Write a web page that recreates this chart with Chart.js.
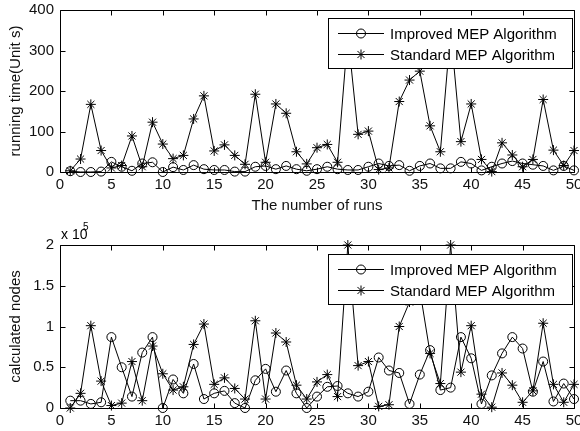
<!DOCTYPE html>
<html>
<head>
<meta charset="utf-8">
<script src="https://cdn.jsdelivr.net/npm/chart.js@4.4.1/dist/chart.umd.min.js"></script>
<style>
  body { margin: 0; background: #fff; }
  #wrap { position: relative; width: 580px; height: 431px; background: #fff; }
  canvas { position: absolute; left: 0; }
</style>
</head>
<body>
<div id="wrap">
  <canvas id="chart-time" width="580" height="220" style="top:0;width:580px;height:220px"></canvas>
  <canvas id="chart-nodes" width="580" height="211" style="top:220px;width:580px;height:211px"></canvas>
</div>
<script>
// run number (x axis)
const runs = [1, 2, 3, 4, 5, 6, 7, 8, 9, 10, 11, 12, 13, 14, 15, 16, 17, 18, 19, 20,
    21, 22, 23, 24, 25, 26, 27, 28, 29, 30, 31, 32, 33, 34, 35, 36, 37, 38, 39, 40,
    41, 42, 43, 44, 45, 46, 47, 48, 49, 50];

// running time, seconds
const timeImproved = [2, 0, 0, 1, 25, 13, 3, 21, 24, 0, 12, 5, 17, 7, 5, 5, 1, 1, 13, 15,
    7, 15, 7, 3, 7, 13, 7, 5, 5, 13, 21, 15, 17, 3, 15, 21, 9, 9, 25, 21,
    4, 13, 21, 27, 21, 18, 15, 4, 15, 4];
const timeStandard = [3, 32, 167, 53, 10, 16, 89, 13, 123, 69, 33, 41, 131, 188, 52, 67, 41, 19, 192, 24,
    168, 145, 50, 20, 60, 68, 24, 340, 93, 101, 6, 10, 174, 227, 249, 114, 50, 350, 75, 168,
    31, 1, 72, 42, 13, 31, 179, 54, 16, 53];

// calculated nodes, in units of 10^5
const nodesImproved = [0.09, 0.09, 0.05, 0.07, 0.87, 0.50, 0.14, 0.68, 0.87, 0.00, 0.35, 0.18, 0.54, 0.11, 0.18, 0.21, 0.06, 0.00, 0.34, 0.48,
    0.20, 0.46, 0.18, 0.00, 0.14, 0.26, 0.27, 0.18, 0.14, 0.20, 0.62, 0.46, 0.43, 0.05, 0.41, 0.71, 0.22, 0.25, 0.87, 0.61,
    0.05, 0.40, 0.67, 0.87, 0.73, 0.20, 0.57, 0.08, 0.30, 0.11];
const nodesStandard = [0.00, 0.18, 1.01, 0.33, 0.03, 0.06, 0.57, 0.09, 0.76, 0.42, 0.22, 0.26, 0.78, 1.03, 0.29, 0.37, 0.24, 0.11, 1.07, 0.11,
    0.92, 0.81, 0.28, 0.11, 0.32, 0.41, 0.14, 2.00, 0.52, 0.57, 0.02, 0.04, 1.00, 1.30, 1.45, 0.67, 0.30, 2.00, 0.44, 1.01,
    0.17, 0.01, 0.43, 0.28, 0.07, 0.21, 1.04, 0.29, 0.07, 0.29];

const seriesNames = ["Improved MEP Algorithm", "Standard MEP Algorithm"];
const xTicks = [0, 5, 10, 15, 20, 25, 30, 35, 40, 45, 50];
const timeTicks = [0, 100, 200, 300, 400];
const nodeTicks = [0, 0.5, 1, 1.5, 2];

const FONT = "'Liberation Sans', Arial, sans-serif";

function toPoints(values) {
    return values.map(function (v, i) { return { x: runs[i], y: v }; });
}

function drawMarker(ctx, style, x, y) {
    ctx.beginPath();
    if (style === "circle") {
        ctx.arc(x, y, 4.5, 0, Math.PI * 2);
    } else {
        let r = 5, d = r * Math.SQRT1_2;
        ctx.moveTo(x - r, y); ctx.lineTo(x + r, y);
        ctx.moveTo(x, y - r); ctx.lineTo(x, y + r);
        ctx.moveTo(x - d, y - d); ctx.lineTo(x + d, y + d);
        ctx.moveTo(x - d, y + d); ctx.lineTo(x + d, y - d);
    }
    ctx.stroke();
}

// MATLAB style frame: box, inward ticks on all sides, boxed legend
const matlabBox = {
    id: "matlabBox",
    afterDatasetsDraw(chart, args, opts) {
        const ctx = chart.ctx;
        const a = chart.chartArea;
        const xs = chart.scales.x;
        const ys = chart.scales.y;
        const L = Math.round(a.left) + 0.5, R = Math.round(a.right) + 0.5;
        const T = Math.round(a.top) + 0.5, B = Math.round(a.bottom) + 0.5;

        ctx.save();
        ctx.strokeStyle = "#000";
        ctx.lineWidth = 1;
        ctx.beginPath();
        ctx.rect(L, T, R - L, B - T);
        xs.ticks.forEach(function (t) {
            let px = Math.round(xs.getPixelForValue(t.value)) + 0.5;
            ctx.moveTo(px, B); ctx.lineTo(px, B - 5);
            ctx.moveTo(px, T); ctx.lineTo(px, T + 5);
        });
        ys.ticks.forEach(function (t) {
            let py = Math.round(ys.getPixelForValue(t.value)) + 0.5;
            ctx.moveTo(L, py); ctx.lineTo(L + 5, py);
            ctx.moveTo(R, py); ctx.lineTo(R - 5, py);
        });
        ctx.stroke();

        // legend
        const boxL = 328.5, boxR = R - 2, boxT = T + opts.legendTop, boxH = 50;
        ctx.fillStyle = "#fff";
        ctx.fillRect(boxL, boxT, boxR - boxL, boxH);
        ctx.strokeRect(boxL, boxT, boxR - boxL, boxH);
        ctx.font = "15px " + FONT;
        ctx.textBaseline = "middle";
        ctx.textAlign = "left";
        chart.data.datasets.forEach(function (ds, i) {
            let y = Math.round(boxT + 14 + i * 21) + 0.5;
            ctx.beginPath();
            ctx.moveTo(338, y); ctx.lineTo(384, y);
            ctx.stroke();
            drawMarker(ctx, ds.pointStyle, 361, y);
            ctx.fillStyle = "#000";
            ctx.fillText(ds.label, 390, y + 1);
        });

        // exponent label for the nodes axis
        if (opts.exponent) {
            ctx.fillStyle = "#000";
            ctx.font = "14px " + FONT;
            ctx.fillText("x 10", 61, a.top - 10);
            ctx.font = "10px " + FONT;
            ctx.fillText(opts.exponent, 83, a.top - 18);
        }
        ctx.restore();
    }
};

function makeChart(canvasId, improved, standard, yMax, yTicks, yTitle, xTitle, layout) {
    let canvas = document.getElementById(canvasId);
    return new Chart(canvas, {
        type: "line",
        data: {
            datasets: [{
                label: seriesNames[0],
                data: toPoints(improved),
                borderColor: "#000",
                borderWidth: 1,
                pointStyle: "circle",
                pointRadius: 4.5,
                pointBorderWidth: 1,
                pointBorderColor: "#000",
                pointBackgroundColor: "rgba(0,0,0,0)",
                tension: 0,
                clip: false
            }, {
                label: seriesNames[1],
                data: toPoints(standard),
                borderColor: "#000",
                borderWidth: 1,
                pointStyle: "star",
                pointRadius: 5,
                pointBorderWidth: 1,
                pointBorderColor: "#000",
                pointBackgroundColor: "#000",
                tension: 0,
                clip: false
            }]
        },
        options: {
            responsive: false,
            animation: false,
            events: [],
            devicePixelRatio: 1,
            layout: { padding: { top: layout.top, right: 3, left: 0, bottom: 0 } },
            plugins: {
                legend: { display: false },
                tooltip: { enabled: false },
                matlabBox: { legendTop: layout.legendTop, exponent: layout.exponent }
            },
            scales: {
                x: {
                    type: "linear",
                    min: 0,
                    max: 50,
                    grid: { display: false, drawTicks: false },
                    border: { display: false },
                    afterBuildTicks: function (s) { s.ticks = xTicks.map(function (v) { return { value: v }; }); },
                    ticks: { color: "#111", font: { family: FONT, size: 15 }, padding: 4, maxRotation: 0, autoSkip: false },
                    title: {
                        display: !!xTitle,
                        text: xTitle,
                        color: "#111",
                        font: { family: FONT, size: 15 },
                        padding: { top: 0, bottom: 5 }
                    },
                    afterFit: function (s) {
                        s.height = layout.xHeight;
                        s.paddingLeft = 0;
                        s.paddingRight = 0;
                    }
                },
                y: {
                    min: 0,
                    max: yMax,
                    grid: { display: false, drawTicks: false },
                    border: { display: false },
                    afterBuildTicks: function (s) { s.ticks = yTicks.map(function (v) { return { value: v }; }); },
                    ticks: {
                        color: "#111",
                        font: { family: FONT, size: 15 },
                        padding: 6,
                        autoSkip: false,
                        callback: function (v) { return String(v); }
                    },
                    title: {
                        display: true,
                        text: yTitle,
                        color: "#111",
                        font: { family: FONT, size: 15 },
                        padding: { top: 7, bottom: 0 }
                    },
                    afterFit: function (s) {
                        s.width = 60;
                        s.paddingTop = 0;
                        s.paddingBottom = 0;
                    }
                }
            }
        },
        plugins: [matlabBox]
    });
}

makeChart("chart-time", timeImproved, timeStandard, 400, timeTicks,
    "running time(Unit s)", "The number of runs",
    { top: 10, xHeight: 48, legendTop: 8, exponent: "" });

makeChart("chart-nodes", nodesImproved, nodesStandard, 2, nodeTicks,
    "calculated nodes", "",
    { top: 25, xHeight: 23, legendTop: 9, exponent: "5" });
</script>
</body>
</html>
